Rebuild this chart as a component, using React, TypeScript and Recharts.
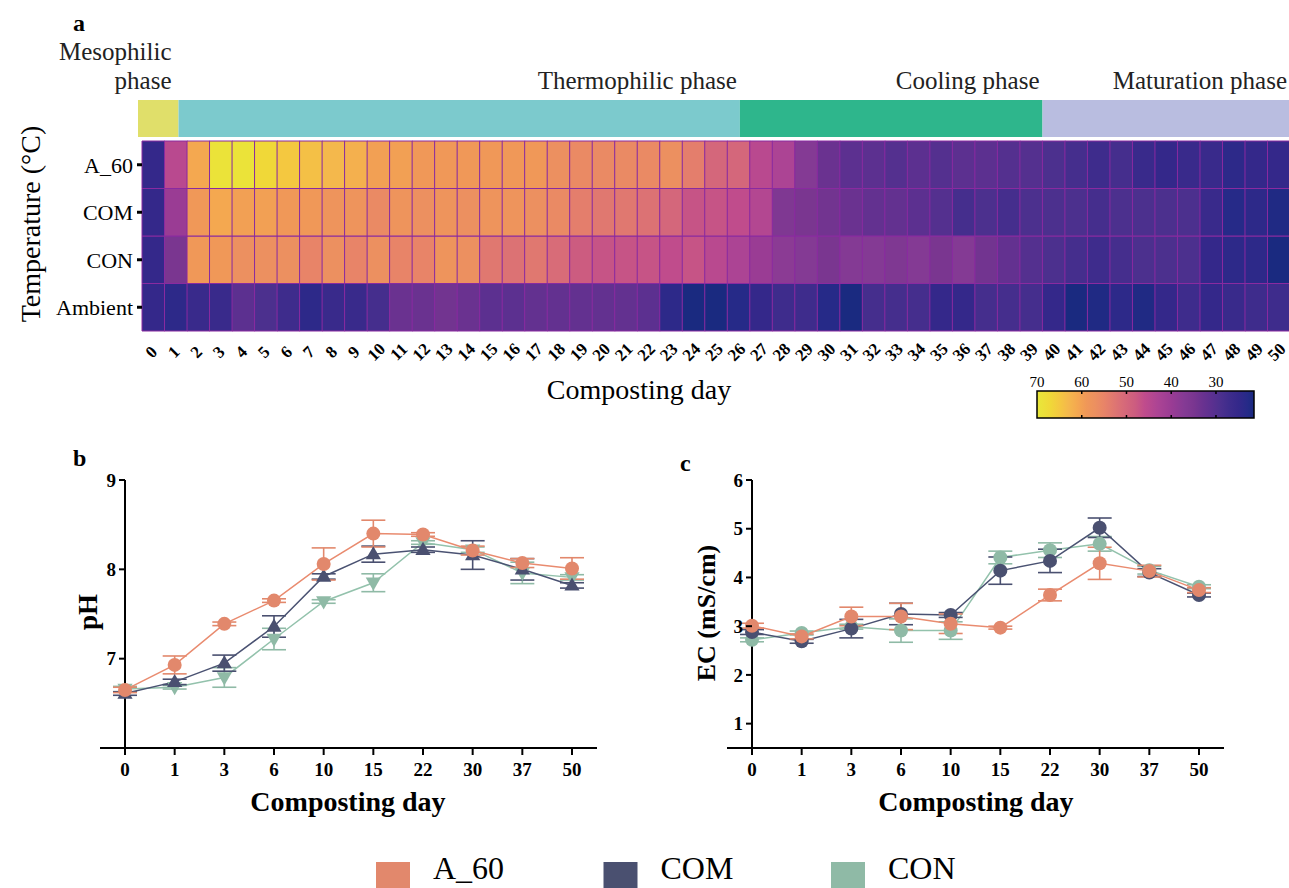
import React from 'react'
import {
  BarChart, Bar, Cell, LineChart, Line, XAxis, YAxis, ErrorBar, ReferenceLine,
} from 'recharts'

// ─── Data ─────────────────────────────────────────────────────────────────────

const SERIF = '"Liberation Serif", "Times New Roman", serif'

// heatmap (a): daily temperature, day 0 … 50
const DAYS = Array.from({ length: 51 }, (_, i) => i)

const A60_TEMP = [
  25, 45, 61, 69, 69, 67, 65, 64, 63, 62, 60, 60, 59, 59, 59, 59, 59, 59, 57, 56,
  56, 56, 56, 57, 54, 50, 50, 45, 43, 37, 33, 31, 31, 30, 31, 30, 31, 31, 30, 30,
  29, 28, 27, 28, 26, 25, 26, 26, 24, 25, 25,
]
const COM_TEMP = [
  25, 40, 59, 61, 60, 60, 59, 59, 58, 58, 56, 58, 57, 58, 57, 58, 58, 57, 56, 54,
  53, 53, 52, 50, 47, 47, 46, 44, 36, 35, 34, 33, 32, 32, 31, 30, 28, 29, 28, 29,
  29, 29, 28, 29, 29, 29, 29, 26, 23, 24, 22,
]
const CON_TEMP = [
  25, 35, 59, 59, 57, 57, 57, 55, 57, 55, 57, 55, 55, 58, 57, 53, 52, 53, 51, 48,
  47, 47, 47, 46, 47, 45, 43, 40, 38, 37, 35, 37, 37, 36, 37, 35, 37, 34, 32, 30,
  29, 28, 27, 28, 29, 29, 29, 25, 24, 24, 21,
]
const AMBIENT_TEMP = [
  25, 24, 26, 26, 31, 29, 27, 24, 26, 26, 28, 33, 33, 34, 33, 31, 31, 32, 32, 32,
  32, 32, 31, 24, 21, 21, 23, 25, 27, 27, 23, 21, 28, 28, 28, 25, 25, 28, 28, 28,
  25, 21, 22, 24, 22, 25, 27, 25, 26, 27, 27,
]

// rows listed bottom → top
const HEAT_ROWS = [
  { key: 'ambient', label: 'Ambient', temps: AMBIENT_TEMP },
  { key: 'con', label: 'CON', temps: CON_TEMP },
  { key: 'com', label: 'COM', temps: COM_TEMP },
  { key: 'a60', label: 'A_60', temps: A60_TEMP },
]

// composting phases, widths in day units (bar starts a little before day 0)
const PHASE_LINES = [['Mesophilic', 'phase'], ['Thermophilic phase'], ['Cooling phase'], ['Maturation phase']]
const PHASE_DAYS = [1.8, 24.95, 13.45, 11]
const PHASE_COLORS = ['#e0df6a', '#7ccacd', '#2eb68c', '#b9bde0']

// colour scale (°C → colour)
const COLOR_STOPS: [number, string][] = [
  [20, '#182878'], [21, '#1a2a80'], [23, '#262a88'], [25, '#34288a'], [27, '#3e2c8c'],
  [29, '#4c308e'], [31, '#5c3090'], [33, '#6a3290'], [35, '#7a3690'], [37, '#843a94'],
  [40, '#9a3c94'], [43, '#ac4494'], [46, '#c04c8c'], [48, '#cc5c80'], [51, '#d86c78'],
  [53, '#e07870'], [55, '#e88468'], [57, '#ec9060'], [59, '#f09858'], [61, '#f4a850'],
  [63, '#f4b84c'], [65, '#f4c840'], [67, '#f0d838'], [70, '#e8e83a'],
]
const CBAR_MAX = 70
const CBAR_MIN = 21.5
const CBAR_TICKS = [70, 60, 50, 40, 30]

// panels b / c
const DAY_LABELS = ['0', '1', '3', '6', '10', '15', '22', '30', '37', '50']

const PH_A60 = [6.65, 6.93, 7.39, 7.65, 8.06, 8.40, 8.39, 8.21, 8.07, 8.01]
const PH_A60_ERR = [0.03, 0.10, 0.02, 0.02, 0.18, 0.15, 0.02, 0.05, 0.05, 0.12]
const PH_COM = [6.61, 6.74, 6.95, 7.36, 7.92, 8.17, 8.22, 8.16, 8.00, 7.82]
const PH_COM_ERR = [0.02, 0.03, 0.09, 0.12, 0.03, 0.09, 0.03, 0.16, 0.12, 0.03]
const PH_CON = [6.66, 6.68, 6.79, 7.22, 7.64, 7.85, 8.30, 8.22, 7.96, 7.91]
const PH_CON_ERR = [0.03, 0.02, 0.11, 0.12, 0.02, 0.10, 0.02, 0.03, 0.12, 0.03]

const EC_A60 = [3.01, 2.79, 3.20, 3.20, 3.05, 2.97, 3.64, 4.29, 4.13, 3.74]
const EC_A60_ERR = [0.05, 0.05, 0.19, 0.27, 0.20, 0.03, 0.12, 0.33, 0.12, 0.05]
const EC_COM = [2.88, 2.69, 2.95, 3.25, 3.23, 4.14, 4.34, 5.02, 4.10, 3.64]
const EC_COM_ERR = [0.05, 0.04, 0.19, 0.22, 0.05, 0.28, 0.24, 0.20, 0.08, 0.04]
const EC_CON = [2.72, 2.86, 2.99, 2.91, 2.91, 4.41, 4.56, 4.69, 4.15, 3.81]
const EC_CON_ERR = [0.04, 0.04, 0.05, 0.24, 0.18, 0.13, 0.15, 0.15, 0.08, 0.04]

const SERIES = [
  { key: 'a60', name: 'A_60', color: '#e2886c', line: '#e98b6f' },
  { key: 'com', name: 'COM', color: '#4a5070', line: '#4a5272' },
  { key: 'con', name: 'CON', color: '#8fbaa6', line: '#93c2ac' },
]

// ─── Helpers ──────────────────────────────────────────────────────────────────

function hexToRgb(h: string) {
  const n = parseInt(h.slice(1), 16)
  return [(n >> 16) & 255, (n >> 8) & 255, n & 255]
}

function tempColor(t: number) {
  if (t <= COLOR_STOPS[0][0]) return COLOR_STOPS[0][1]
  for (let i = 1; i < COLOR_STOPS.length; i++) {
    const [t1, c1] = COLOR_STOPS[i]
    if (t <= t1) {
      const [t0, c0] = COLOR_STOPS[i - 1]
      const f = (t - t0) / (t1 - t0)
      const a = hexToRgb(c0), b = hexToRgb(c1)
      const m = a.map((v, k) => Math.round(v + (b[k] - v) * f))
      return `rgb(${m[0]},${m[1]},${m[2]})`
    }
  }
  return COLOR_STOPS[COLOR_STOPS.length - 1][1]
}

const X_PAD = 25
const GRID = '#8a2aa0'

function HeatTick({ x, y, payload }: any) {
  const cy = y + 19
  return (
    <text x={x - 2} y={cy} textAnchor="middle" dominantBaseline="central" transform={`rotate(-45 ${x - 2} ${cy})`}
      fontFamily={SERIF} fontWeight="bold" fontSize={17} fill="#000">
      {payload.value}
    </text>
  )
}

// y ticks sit on the y-axis line, which is drawn at the first day category
function ShiftedYTick({ x, y, payload }: any) {
  const ax = x + X_PAD
  return (
    <g>
      <line x1={ax - 6} x2={ax} y1={y} y2={y} stroke="#000" strokeWidth={2} />
      <text x={ax - 9} y={y} dy="0.35em" textAnchor="end" fontFamily={SERIF} fontWeight="bold" fontSize={19} fill="#000">
        {payload.value}
      </text>
    </g>
  )
}

function marker(shape: string, color: string) {
  return (p: any) => {
    const { cx, cy, index } = p
    if (cx == null || cy == null) return <g key={`d-${index}`} />
    if (shape === 'circle') return <circle key={`d-${index}`} cx={cx} cy={cy} r={7} fill={color} />
    const s = 8
    const pts = shape === 'up'
      ? `${cx},${cy - s} ${cx + s * 0.95},${cy + s * 0.65} ${cx - s * 0.95},${cy + s * 0.65}`
      : `${cx},${cy + s} ${cx + s * 0.95},${cy - s * 0.65} ${cx - s * 0.95},${cy - s * 0.65}`
    return <polygon key={`d-${index}`} points={pts} fill={color} />
  }
}

function buildRows(a: number[], ae: number[], m: number[], me: number[], n: number[], ne: number[]) {
  return DAY_LABELS.map((d, i) => ({
    day: d, a60: a[i], a60Err: ae[i], com: m[i], comErr: me[i], con: n[i], conErr: ne[i],
  }))
}

const phData = buildRows(PH_A60, PH_A60_ERR, PH_COM, PH_COM_ERR, PH_CON, PH_CON_ERR)
const ecData = buildRows(EC_A60, EC_A60_ERR, EC_COM, EC_COM_ERR, EC_CON, EC_CON_ERR)

const heatData = DAYS.map((d) => {
  const row: Record<string, string | number> = { day: String(d) }
  for (const r of HEAT_ROWS) row[r.key] = 1
  return row
})

const phaseData = [PHASE_DAYS.reduce((acc: Record<string, number | string>, v, i) => {
  acc[`p${i}`] = v
  return acc
}, { name: 'phase' })]

// ─── Line panel ───────────────────────────────────────────────────────────────

function LinePanel({ data, domain, ticks, shapes }: {
  data: any[]; domain: [number, number]; ticks: number[]; shapes: string[]
}) {
  const order = [2, 1, 0]
  return (
    <LineChart width={640} height={400} data={data} margin={{ top: 50, right: 43, bottom: 0, left: 99 }}>
      <XAxis
        dataKey="day" interval={0} padding={{ left: X_PAD, right: X_PAD }} height={82}
        axisLine={{ stroke: '#000', strokeWidth: 2 }} tickLine={{ stroke: '#000', strokeWidth: 2 }}
        tickSize={7} tickMargin={8}
        tick={{ fontFamily: SERIF, fontWeight: 'bold', fontSize: 19, fill: '#000' }}
      />
      <YAxis
        domain={domain} ticks={ticks} width={1} axisLine={false} tickLine={false}
        tickSize={0} tickMargin={0} tick={<ShiftedYTick />} interval={0} allowDataOverflow
      />
      <ReferenceLine x="0" stroke="#000" strokeWidth={2} />
      {order.map((k) => {
        const s = SERIES[k]
        return (
          <Line key={s.key} type="linear" dataKey={s.key} stroke={s.line} strokeWidth={1.5}
            dot={marker(shapes[k], s.color)} activeDot={false} isAnimationActive={false}>
            <ErrorBar dataKey={`${s.key}Err`} width={12} stroke={s.color} strokeWidth={1.6} direction="y" />
          </Line>
        )
      })}
    </LineChart>
  )
}

// ─── Component ────────────────────────────────────────────────────────────────

export default function App() {
  const cbX = 1037
  const cbW = 217
  const cbPos = (t: number) => cbX + ((CBAR_MAX - t) / (CBAR_MAX - CBAR_MIN)) * cbW

  return (
    <div style={{ position: 'absolute', left: 0, top: 0, width: 1289, height: 888, background: '#fff', overflow: 'hidden', fontFamily: SERIF }}>
      {/* phase bar */}
      <div style={{ position: 'absolute', left: 0, top: 30 }}>
        <BarChart width={1290} height={107} layout="vertical" data={phaseData} barCategoryGap={0}
          margin={{ top: 70, right: 0, bottom: 0, left: 138 }}>
          <XAxis type="number" domain={[0, 51.2]} hide />
          <YAxis type="category" dataKey="name" hide />
          {PHASE_DAYS.map((_, i) => (
            <Bar key={i} dataKey={`p${i}`} stackId="ph" fill={PHASE_COLORS[i]} isAnimationActive={false}
              label={(p: any) => {
                const lines = PHASE_LINES[i]
                const right = p.x + p.width - (i === 0 ? 7 : 3)
                return (
                  <text key={`pl-${i}`} textAnchor="end" fontFamily={SERIF} fontSize={25} fill="#222">
                    {lines.map((ln, j) => (
                      <tspan key={j} x={right} y={p.y - 11 - (lines.length - 1 - j) * 29}>{ln}</tspan>
                    ))}
                  </text>
                )
              }}
            />
          ))}
        </BarChart>
      </div>

      {/* heatmap */}
      <div style={{ position: 'absolute', left: 0, top: 130 }}>
        <BarChart width={1290} height={250} data={heatData} barCategoryGap={0} barGap={0}
          margin={{ top: 11, right: 0, bottom: 0, left: 0 }}>
          <XAxis dataKey="day" interval={0} tickLine={false} axisLine={false} tickSize={0} height={49} tick={<HeatTick />} />
          <YAxis type="number" domain={[0, 4]} ticks={[0.5, 1.5, 2.5, 3.5]} width={142} interval={0}
            tickFormatter={(v: number) => HEAT_ROWS[Math.floor(v)].label}
            axisLine={false} tickLine={{ stroke: '#000', strokeWidth: 3 }} tickSize={5} tickMargin={4}
            tick={{ fontFamily: SERIF, fontSize: 22, fill: '#000' }} />
          {HEAT_ROWS.map((r) => (
            <Bar key={r.key} dataKey={r.key} stackId="t" isAnimationActive={false}>
              {r.temps.map((t, i) => (
                <Cell key={i} fill={tempColor(t)} stroke={GRID} strokeWidth={1} />
              ))}
            </Bar>
          ))}
        </BarChart>
      </div>

      {/* pH */}
      <div style={{ position: 'absolute', left: 0, top: 430 }}>
        <LinePanel data={phData} domain={[6, 9]} ticks={[7, 8, 9]} shapes={['circle', 'up', 'down']} />
      </div>

      {/* EC */}
      <div style={{ position: 'absolute', left: 627, top: 430 }}>
        <LinePanel data={ecData} domain={[0.5, 6]} ticks={[1, 2, 3, 4, 5, 6]} shapes={['circle', 'circle', 'circle']} />
      </div>

      {/* titles, colour bar, legend */}
      <svg width={1289} height={888} style={{ position: 'absolute', left: 0, top: 0, pointerEvents: 'none' }}>
        <defs>
          <linearGradient id="cbar" x1="0" x2="1" y1="0" y2="0">
            {[...COLOR_STOPS].reverse().filter(([t]) => t >= CBAR_MIN - 1).map(([t, c]) => (
              <stop key={t} offset={`${Math.max(0, Math.min(1, (CBAR_MAX - t) / (CBAR_MAX - CBAR_MIN))) * 100}%`} stopColor={c} />
            ))}
          </linearGradient>
        </defs>
        <g fontFamily={SERIF} fill="#000">
          <text x={73} y={31} fontWeight="bold" fontSize={24}>a</text>
          <text x={73} y={466} fontWeight="bold" fontSize={24}>b</text>
          <text x={680} y={471} fontWeight="bold" fontSize={24}>c</text>

          <text x={30} y={224} fontSize={28} textAnchor="middle" dominantBaseline="central" transform="rotate(-90 30 224)">
            Temperature (°C)
          </text>
          <text x={639} y={399} fontSize={28} textAnchor="middle">Composting day</text>

          <text x={88} y={612} fontSize={27} fontWeight="bold" textAnchor="middle" dominantBaseline="central" transform="rotate(-90 88 612)">pH</text>
          <text x={706} y={613} fontSize={26} fontWeight="bold" textAnchor="middle" dominantBaseline="central" transform="rotate(-90 706 613)">EC (mS/cm)</text>
          <text x={348} y={811} fontSize={28} fontWeight="bold" textAnchor="middle">Composting day</text>
          <text x={976} y={811} fontSize={28} fontWeight="bold" textAnchor="middle">Composting day</text>
        </g>

        {/* colour bar */}
        <rect x={cbX} y={391} width={cbW} height={27} fill="url(#cbar)" stroke="#000" strokeWidth={1.5} />
        {CBAR_TICKS.map((t) => (
          <g key={t}>
            <text x={cbPos(t)} y={387} textAnchor="middle" fontFamily={SERIF} fontSize={15} fill="#000">{t}</text>
            {t !== CBAR_MAX && (
              <>
                <line x1={cbPos(t)} x2={cbPos(t)} y1={391} y2={394} stroke="#000" strokeWidth={1.5} />
                <line x1={cbPos(t)} x2={cbPos(t)} y1={415} y2={418} stroke="#000" strokeWidth={1.5} />
              </>
            )}
          </g>
        ))}

        {/* legend */}
        {SERIES.map((s, i) => (
          <g key={s.key}>
            <rect x={376 + i * 227.5} y={862} width={34} height={26} fill={s.color} />
            <text x={433 + i * 227.5} y={879} fontFamily={SERIF} fontSize={32} fill="#000">{s.name}</text>
          </g>
        ))}
      </svg>
    </div>
  )
}
